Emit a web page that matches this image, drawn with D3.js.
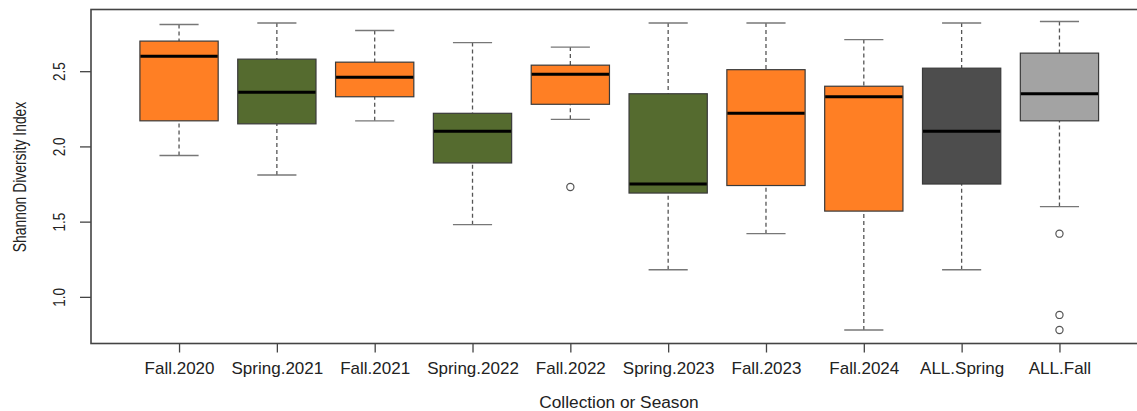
<!DOCTYPE html>
<html>
<head>
<meta charset="utf-8">
<script src="https://cdn.jsdelivr.net/npm/d3@7"></script>
<style>
  html, body { margin: 0; padding: 0; background: #fff; overflow: hidden; }
  svg { display: block; }
  text { font-family: "Liberation Sans", Arial, sans-serif; fill: #222; }
</style>
</head>
<body>
<svg id="chart" width="1137" height="411"></svg>
<script>
// Shannon diversity summaries per collection / season
const categories = ["Fall.2020", "Spring.2021", "Fall.2021", "Spring.2022", "Fall.2022",
                    "Spring.2023", "Fall.2023", "Fall.2024", "ALL.Spring", "ALL.Fall"];
const groupType  = ["fall", "spring", "fall", "spring", "fall",
                    "spring", "fall", "fall", "allSpring", "allFall"];
const whiskerLow  = [1.94, 1.81, 2.17, 1.48, 2.18, 1.18, 1.42, 0.78, 1.18, 1.60];
const q1          = [2.17, 2.15, 2.33, 1.89, 2.28, 1.69, 1.74, 1.57, 1.75, 2.17];
const medians     = [2.60, 2.36, 2.46, 2.10, 2.48, 1.75, 2.22, 2.33, 2.10, 2.35];
const q3          = [2.70, 2.58, 2.56, 2.22, 2.54, 2.35, 2.51, 2.40, 2.52, 2.62];
const whiskerHigh = [2.81, 2.82, 2.77, 2.69, 2.66, 2.82, 2.82, 2.71, 2.82, 2.83];
const outliers    = [[], [], [], [], [1.73], [], [], [], [], [1.42, 0.88, 0.78]];
const yTicks = [1.0, 1.5, 2.0, 2.5];

const svg = d3.select("#chart");

// Plot region (right border runs past the window edge)
const plot = { left: 91, right: 1147.5, top: 9.5, bottom: 343.5 };

const x = d3.scaleLinear().domain([0.1, 10.9]).range([plot.left, plot.right]);
const y = d3.scaleLinear().domain([0.69, 2.91]).range([plot.bottom, plot.top]);

const fill = d3.scaleOrdinal()
  .domain(["fall", "spring", "allSpring", "allFall"])
  .range(["#FF7F24", "#556B2F", "#4D4D4D", "#A3A3A3"]);

const boxW = 0.8;
const stapleW = boxW / 2;

const rows = categories.map((c, i) => ({
  name: c, pos: i + 1, type: groupType[i],
  lo: whiskerLow[i], q1: q1[i], med: medians[i], q3: q3[i], hi: whiskerHigh[i],
  out: outliers[i]
}));

const g = svg.append("g");

// Whiskers (dashed)
g.selectAll("line.wlo").data(rows).join("line")
  .attr("x1", d => x(d.pos)).attr("x2", d => x(d.pos))
  .attr("y1", d => y(d.lo)).attr("y2", d => y(d.q1))
  .attr("stroke", "#555").attr("stroke-width", 1.3).attr("stroke-dasharray", "4,3");
g.selectAll("line.whi").data(rows).join("line")
  .attr("x1", d => x(d.pos)).attr("x2", d => x(d.pos))
  .attr("y1", d => y(d.hi)).attr("y2", d => y(d.q3))
  .attr("stroke", "#555").attr("stroke-width", 1.3).attr("stroke-dasharray", "4,3");

// Staples
[["lo"], ["hi"]].forEach(([k]) => {
  g.append("g").selectAll("line").data(rows).join("line")
    .attr("x1", d => x(d.pos - stapleW / 2)).attr("x2", d => x(d.pos + stapleW / 2))
    .attr("y1", d => y(d[k])).attr("y2", d => y(d[k]))
    .attr("stroke", "#777").attr("stroke-width", 1.4);
});

// Boxes
g.append("g").selectAll("rect").data(rows).join("rect")
  .attr("x", d => x(d.pos - boxW / 2))
  .attr("width", d => x(d.pos + boxW / 2) - x(d.pos - boxW / 2))
  .attr("y", d => y(d.q3))
  .attr("height", d => y(d.q1) - y(d.q3))
  .attr("fill", d => fill(d.type))
  .attr("stroke", "#3a3a3a").attr("stroke-width", 1.2);

// Medians
g.append("g").selectAll("line").data(rows).join("line")
  .attr("x1", d => x(d.pos - boxW / 2) + 0.5).attr("x2", d => x(d.pos + boxW / 2) - 0.5)
  .attr("y1", d => y(d.med)).attr("y2", d => y(d.med))
  .attr("stroke", "#000").attr("stroke-width", 3);

// Outliers
const outPts = rows.flatMap(d => d.out.map(v => ({ pos: d.pos, v })));
g.append("g").selectAll("circle").data(outPts).join("circle")
  .attr("cx", d => x(d.pos)).attr("cy", d => y(d.v)).attr("r", 3.6)
  .attr("fill", "none").attr("stroke", "#555").attr("stroke-width", 1.2);

// Frame
svg.append("rect")
  .attr("x", plot.left).attr("y", plot.top)
  .attr("width", plot.right - plot.left).attr("height", plot.bottom - plot.top)
  .attr("fill", "none").attr("stroke", "#444").attr("stroke-width", 1.6);

// Left axis, labels parallel to the axis
const yAxis = svg.append("g")
  .attr("transform", `translate(${plot.left},0)`)
  .call(d3.axisLeft(y).tickValues(yTicks).tickFormat(d3.format(".1f")).tickSize(11).tickSizeOuter(0));
yAxis.select(".domain").remove();
yAxis.selectAll(".tick line").attr("stroke", "#444").attr("stroke-width", 1.3);
yAxis.selectAll(".tick text")
  .attr("x", null).attr("dy", null)
  .attr("text-anchor", "middle")
  .attr("font-size", 13.5)
  .attr("transform", "translate(-26,0) rotate(-90) scale(1,1.28)");

// Bottom axis
const xAxis = svg.append("g")
  .attr("transform", `translate(0,${plot.bottom})`)
  .call(d3.axisBottom(x).tickValues(rows.map(d => d.pos))
    .tickFormat((d, i) => categories[i]).tickSize(9).tickSizeOuter(0));
xAxis.select(".domain").remove();
xAxis.selectAll(".tick line").attr("stroke", "#444").attr("stroke-width", 1.3);
xAxis.selectAll(".tick text")
  .attr("y", null).attr("dy", null)
  .attr("transform", "translate(0,30.5)")
  .attr("font-size", 17);

// Axis titles
svg.append("text")
  .attr("x", 619).attr("y", 408)
  .attr("text-anchor", "middle").attr("font-size", 17.3)
  .text("Collection or Season");

svg.append("text")
  .attr("text-anchor", "middle").attr("font-size", 13.9)
  .attr("transform", "translate(26,177) rotate(-90) scale(1,1.3)")
  .text("Shannon Diversity Index");
</script>
</body>
</html>
